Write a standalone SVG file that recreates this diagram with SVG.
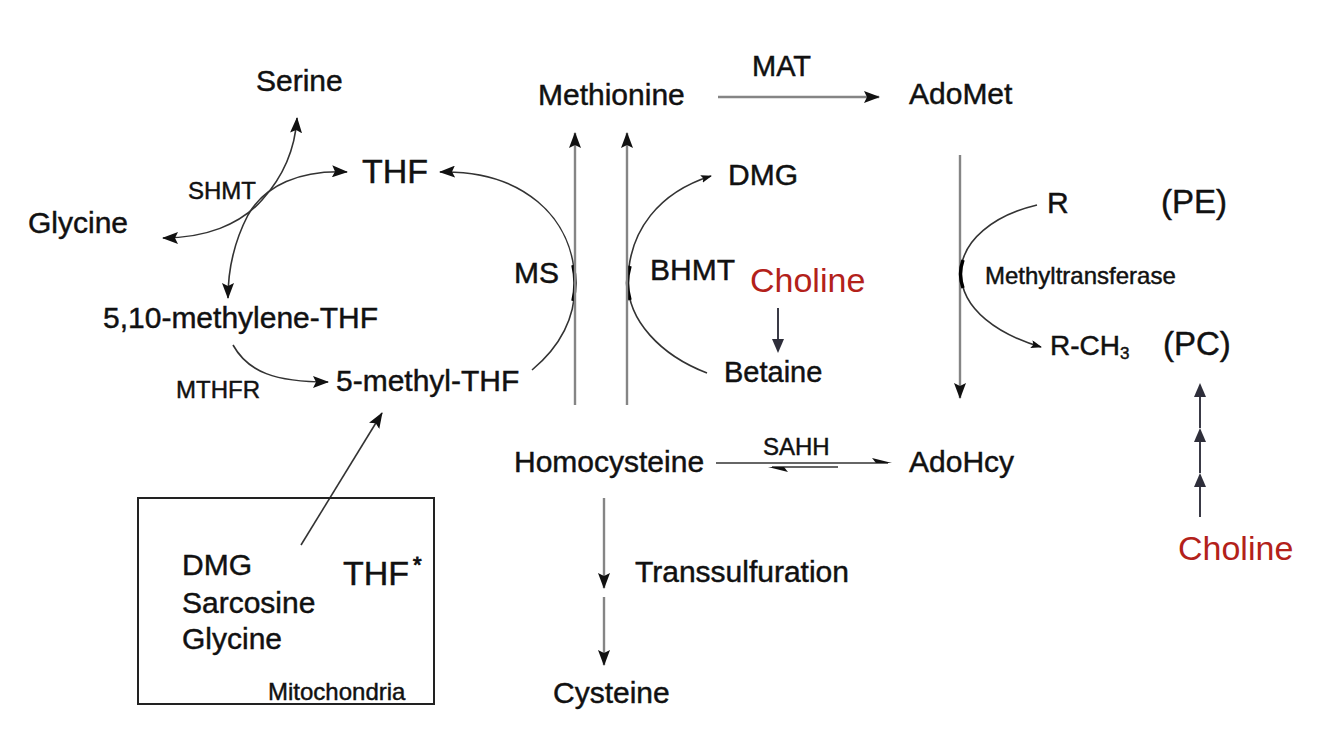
<svg xmlns="http://www.w3.org/2000/svg" width="1334" height="747" viewBox="0 0 1334 747">
<style>
text{font-family:"Liberation Sans",Arial,Helvetica,sans-serif;fill:#111;stroke:#111;stroke-width:0.45}
.m{font-size:30px}
.s{font-size:24px}
.big{font-size:34px}
.red{font-size:34px;fill:#b3211a;stroke:none}
.arc{fill:none;stroke:#333;stroke-width:1.6}
.gl{fill:none;stroke:#858585;stroke-width:2.4}
.dk{fill:none;stroke:#333;stroke-width:1.6}
.nv{fill:none;stroke:#3a3a46;stroke-width:2}
.tick{fill:none;stroke:#000;stroke-width:3.5}
</style>
<defs>
<marker id="ah" viewBox="0 0 16 12" refX="15" refY="6" markerWidth="16" markerHeight="12" markerUnits="userSpaceOnUse" orient="auto-start-reverse"><path d="M0,0 L16,6 L0,12 L3,6 z" fill="#111"/></marker>
<marker id="sm" viewBox="0 0 11 8" refX="10" refY="4" markerWidth="11" markerHeight="8" markerUnits="userSpaceOnUse" orient="auto"><path d="M0,0 L11,4 L0,8 L2,4 z" fill="#111"/></marker>
</defs>
<rect width="1334" height="747" fill="#fff"/>

<g id="connectors">
<path class="arc" d="M163,238 C205,238 240,225 262,200 C282,178 295,150 297,118" marker-start="url(#ah)" marker-end="url(#ah)"/>
<path class="arc" d="M347,172 C300,170 265,185 248,215 C235,240 228,265 228,298" marker-start="url(#ah)" marker-end="url(#ah)"/>
<path class="arc" d="M233,345 C248,372 275,382 328,382" marker-end="url(#ah)"/>
<path class="arc" d="M532,370 C562,345 575,315 575,285 C575,215 520,170 440,172" marker-end="url(#ah)"/>
<path class="tick" d="M573,265 Q577,283 573,301"/>
<path class="arc" d="M707,373 C660,355 628,320 628,283 C628,230 660,192 711,176" marker-end="url(#sm)"/>
<path class="tick" d="M630,266 Q625,283 630,300"/>
<path class="gl" d="M575,405 L575,133" marker-end="url(#ah)"/>
<path class="gl" d="M627,405 L627,133" marker-end="url(#ah)"/>
<path class="gl" d="M718,97 L879,97" marker-end="url(#ah)"/>
<path class="gl" d="M960,155 L960,398" marker-end="url(#ah)"/>
<path class="arc" d="M1037,205 C995,215 961,240 961,273 C961,310 1000,335 1041,347" marker-end="url(#sm)"/>
<path class="tick" d="M963,260 Q958,274 963,288"/>
<path class="dk" d="M716,463 L888,463"/>
<path d="M892,463 L872,458 L876,463 z" fill="#111"/>
<path class="dk" d="M838,467 L772,467"/>
<path d="M768,467 L788,472 L784,467 z" fill="#111"/>
<path class="gl" d="M604,498 L604,588" marker-end="url(#ah)"/>
<path class="gl" d="M604,597 L604,665" marker-end="url(#ah)"/>
<path class="arc" d="M301,545 L382,413" marker-end="url(#ah)"/>
<path class="nv" d="M778,308 L778,340"/>
<path d="M772,339 L784,339 L778,353 z" fill="#2e2e3a"/>
<path class="nv" d="M1200,517 L1200,480"/>
<path class="nv" d="M1200,473 L1200,436"/>
<path class="nv" d="M1200,428 L1200,392"/>
<path d="M1194,487 L1206,487 L1200,473 z" fill="#2e2e3a"/>
<path d="M1194,442 L1206,442 L1200,428 z" fill="#2e2e3a"/>
<path d="M1194,397 L1206,397 L1200,383 z" fill="#2e2e3a"/>
</g>

<g id="serine"><text class="m" x="256" y="91">Serine</text></g>
<g id="thf"><text class="big" x="362" y="183">THF</text></g>
<g id="shmt"><text class="s" x="188" y="199">SHMT</text></g>
<g id="glycine"><text class="m" x="28" y="233">Glycine</text></g>
<g id="methylene-thf"><text class="m" x="103" y="328">5,10-methylene-THF</text></g>
<g id="mthfr"><text class="s" x="176" y="398">MTHFR</text></g>
<g id="methyl-thf"><text class="m" x="336" y="391">5-methyl-THF</text></g>
<g id="methionine"><text class="m" x="538" y="105">Methionine</text></g>
<g id="mat"><text class="m" x="752" y="76" style="font-size:29px">MAT</text></g>
<g id="adomet"><text class="m" x="909" y="104">AdoMet</text></g>
<g id="dmg"><text class="m" x="728" y="185">DMG</text></g>
<g id="ms"><text class="m" x="514" y="283">MS</text></g>
<g id="bhmt"><text class="m" x="650" y="280">BHMT</text></g>
<g id="choline1"><text class="red" x="750" y="292">Choline</text></g>
<g id="betaine"><text class="m" x="724" y="382" style="font-size:29px">Betaine</text></g>
<g id="r"><text class="m" x="1047" y="213">R</text></g>
<g id="pe"><text class="big" x="1161" y="213" style="font-size:33px">(PE)</text></g>
<g id="methyltransferase"><text class="s" x="985" y="284">Methyltransferase</text></g>
<g id="rch3"><text class="m" x="1050" y="355" style="font-size:28px">R-CH<tspan dy="4" style="font-size:17px">3</tspan></text></g>
<g id="pc"><text class="big" x="1163" y="355" style="font-size:33px">(PC)</text></g>
<g id="homocysteine"><text class="m" x="514" y="472">Homocysteine</text></g>
<g id="sahh"><text class="s" x="763" y="455">SAHH</text></g>
<g id="adohcy"><text class="m" x="909" y="472">AdoHcy</text></g>
<g id="transsulfuration"><text class="m" x="635" y="582">Transsulfuration</text></g>
<g id="cysteine"><text class="m" x="553" y="703">Cysteine</text></g>
<g id="mitochondria">
<rect x="138" y="498" width="296" height="206" fill="none" stroke="#222" stroke-width="2"/>
<text class="m" x="182" y="575">DMG</text>
<text class="m" x="182" y="613">Sarcosine</text>
<text class="m" x="182" y="649">Glycine</text>
<text class="big" x="343" y="585">THF</text>
<text x="413" y="572" style="font-size:22px;stroke-width:1">*</text>
<text class="s" x="268" y="700">Mitochondria</text>
</g>
<g id="choline2"><text class="red" x="1178" y="560">Choline</text></g>
</svg>
